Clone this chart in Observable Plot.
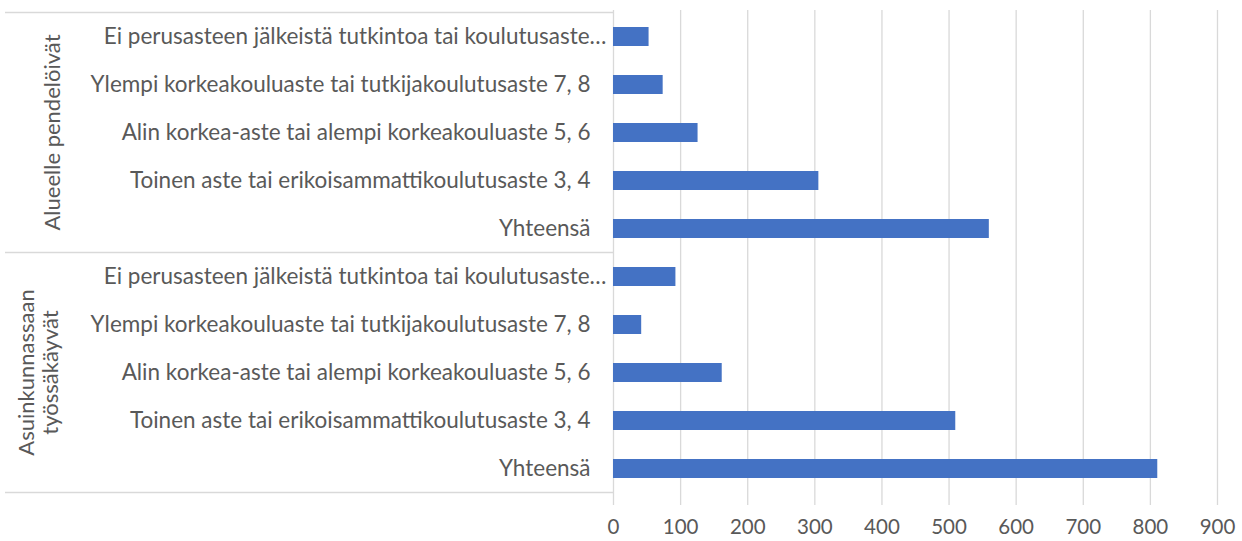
<!DOCTYPE html>
<html><head><meta charset="utf-8">
<script src="https://cdn.jsdelivr.net/npm/d3@7"></script>
<script src="https://cdn.jsdelivr.net/npm/@observablehq/plot@0.6"></script>
<style>body{margin:0;background:#fff;} #chart svg{display:block;}</style>
</head><body><div id="chart"></div>
<script>
const groups = ["Alueelle pendelöivät", "Asuinkunnassaan työssäkäyvät"];
const groupLines = [["Alueelle pendelöivät"], ["Asuinkunnassaan", "työssäkäyvät"]];
const categories = [
  "Ei perusasteen jälkeistä tutkintoa tai koulutusaste…",
  "Ylempi korkeakouluaste tai tutkijakoulutusaste 7, 8",
  "Alin korkea-aste tai alempi korkeakouluaste 5, 6",
  "Toinen aste tai erikoisammattikoulutusaste 3, 4",
  "Yhteensä"
];
const valuesAlueelle = [53, 74, 126, 306, 560];
const valuesAsuinkunnassa = [93, 42, 162, 510, 811];
const xTicks = [0, 100, 200, 300, 400, 500, 600, 700, 800, 900];

const seriesByGroup = [valuesAlueelle, valuesAsuinkunnassa];
const data = groups.flatMap((g, gi) => categories.map((c, ci) => ({
  group: g, cat: c, key: gi + "|" + c, value: seriesByGroup[gi][ci]
})));

const textColor = "#595959";
const chart = Plot.plot({
  width: 1242, height: 541,
  marginTop: 10, marginBottom: 46, marginLeft: 613, marginRight: 25,
  style: {fontFamily: "Lato, 'Open Sans', sans-serif", fontSize: "22px", color: textColor, background: "#fff"},
  x: {domain: [0, 900]},
  y: {domain: data.map(d => d.key), paddingInner: 0.6, paddingOuter: 0.3},
  marks: [
    Plot.ruleX(xTicks, {x: d => d, stroke: "#d9d9d9", strokeWidth: 1.3, strokeOpacity: 1, insetBottom: -10}),
    Plot.barX(data, {x: "value", y: "key", fill: "#4472c4"}),
    Plot.axisY({label: null, tickSize: 0, tickPadding: 23, tickFormat: k => k.split("|")[1], fontSize: 22.5, fill: textColor}),
    Plot.axisX({label: null, ticks: xTicks, tickSize: 0, tickPadding: 24, fontSize: 20.5, fill: textColor, tickFormat: d => String(d)})
  ]
});
document.getElementById("chart").appendChild(chart);

const svg = d3.select(chart);
// the truncated label overflows slightly to the right, as in the reference
svg.selectAll("g[aria-label='y-axis tick label'] text")
  .filter(function() { return this.textContent.endsWith("…"); })
  .each(function() {
    const t = d3.select(this);
    t.attr("transform", (t.attr("transform") || "") + " translate(16,0)");
  });

// group separators and group labels, positioned from Plot's own y scale
const ys = chart.scale("y");
const step = ys.step, bw = ys.bandwidth;
const gap = (step - bw) / 2;
const g = svg.append("g");
const xLeftEdge = 5, xAxis = 613;
const boundaries = [];
groups.forEach((gr, gi) => {
  const keys = categories.map(c => gi + "|" + c);
  const top = ys.apply(keys[0]) - gap;
  const bottom = ys.apply(keys[keys.length - 1]) + bw + gap;
  boundaries.push(top, bottom);
  const center = (top + bottom) / 2;
  const lines = groupLines[gi];
  const baseX = lines.length === 1 ? [60] : [34, 58];
  lines.forEach((ln, li) => {
    g.append("text")
      .attr("transform", `translate(${baseX[li]},${center}) rotate(-90)`)
      .attr("text-anchor", "middle")
      .attr("fill", textColor)
      .attr("font-size", 22)
      .text(ln);
  });
});
Array.from(new Set(boundaries.map(b => Math.round(b * 10) / 10))).forEach(yb => {
  g.append("line").attr("x1", xLeftEdge).attr("x2", xAxis).attr("y1", yb).attr("y2", yb)
    .attr("stroke", "#d9d9d9").attr("stroke-width", 1.3);
});
</script>
</body></html>
